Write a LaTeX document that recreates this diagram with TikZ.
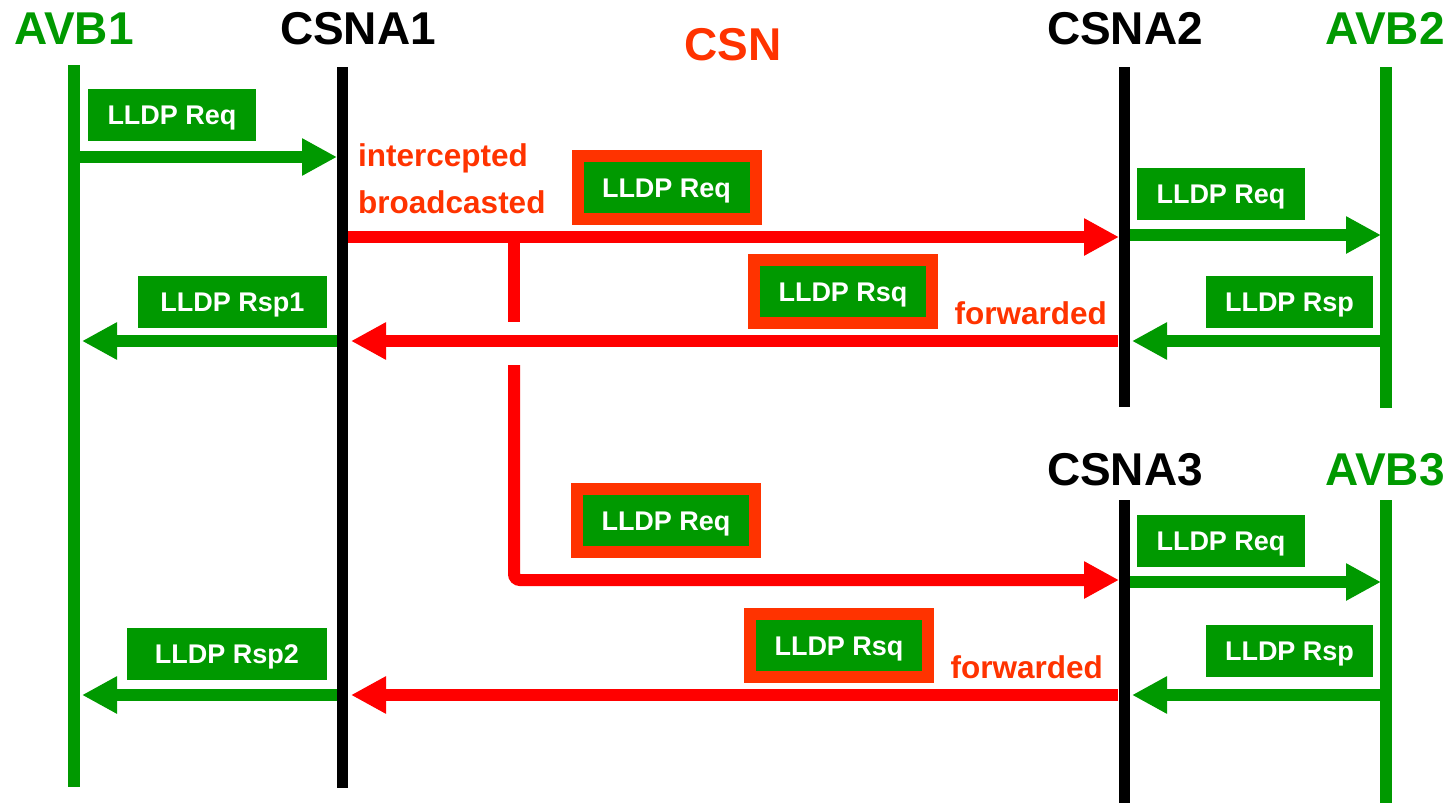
\documentclass[tikz,border=0pt]{standalone}
\usepackage{fontspec}
\setmainfont{Liberation Sans}
\usetikzlibrary{arrows.meta}
\definecolor{avbgreen}{HTML}{009900}
\definecolor{csnred}{HTML}{FF0000}
\definecolor{csnorange}{HTML}{FF3300}
\tikzset{
  head/.style={font=\fontsize{46}{50}\selectfont\bfseries, anchor=base, inner sep=0},
  note/.style={csnorange, font=\fontsize{31.5}{34}\selectfont\bfseries, inner sep=0},
  lifeavb/.style={avbgreen, line width=12pt},
  lifecsn/.style={black, line width=11pt},
  msg/.style={line width=12pt, -{Triangle[length=35pt,width=35pt]}},
  greenmsg/.style={msg, avbgreen},
  redmsg/.style={msg, csnred},
  pkt/.style={fill=avbgreen, text=white, font=\fontsize{27}{30}\selectfont\bfseries,
    text height=19.3pt, text depth=0pt, minimum height=52pt, inner sep=0},
  csnpkt/.style={pkt, draw=csnorange, line width=12pt, minimum width=178pt, minimum height=63pt}
}
\begin{document}
\begin{tikzpicture}[x=1pt,y=-1pt]
  \useasboundingbox (0,0) rectangle (1452,803);
  % headers
  \node[head, avbgreen] (avb1) at (74,45) {AVB1};
  \node[head] (csna1) at (358,45) {CSNA1};
  \node[head, csnorange] (csn) at (733,60) {CSN};
  \node[head] (csna2) at (1125,45) {CSNA2};
  \node[head, avbgreen] (avb2) at (1385,45) {AVB2};
  \node[head] (csna3) at (1125,485) {CSNA3};
  \node[head, avbgreen] (avb3) at (1385,485) {AVB3};
  % lifelines
  \coordinate (avb1t) at (74,65);   \coordinate (avb1b) at (74,787);
  \coordinate (csna1t) at (342,67); \coordinate (csna1b) at (342,788);
  \coordinate (csna2t) at (1124,67); \coordinate (csna2b) at (1124,407);
  \coordinate (avb2t) at (1386,67); \coordinate (avb2b) at (1386,408);
  \coordinate (csna3t) at (1124,500); \coordinate (csna3b) at (1124,803);
  \coordinate (avb3t) at (1386,500); \coordinate (avb3b) at (1386,803);
  \draw[lifeavb] (avb1t) -- (avb1b);
  \draw[lifecsn] (csna1t) -- (csna1b);
  \draw[lifecsn] (csna2t) -- (csna2b);
  \draw[lifeavb] (avb2t) -- (avb2b);
  \draw[lifecsn] (csna3t) -- (csna3b);
  \draw[lifeavb] (avb3t) -- (avb3b);
  % message ends
  \coordinate (req1s) at (80,157);   \coordinate (req1e) at (337,157);
  \coordinate (req2s) at (348,237);  \coordinate (req2e) at (1119,237);
  \coordinate (req3s) at (1130,235); \coordinate (req3e) at (1381,235);
  \coordinate (rsp3s) at (1381,341); \coordinate (rsp3e) at (1132,341);
  \coordinate (rsp2s) at (1118,341); \coordinate (rsp2e) at (351,341);
  \coordinate (rsp1s) at (337,341);  \coordinate (rsp1e) at (82,341);
  \coordinate (brs) at (514,237);    \coordinate (brg) at (514,322);
  \coordinate (brr) at (514,365);    \coordinate (brc) at (514,580);
  \coordinate (req4e) at (1119,580);
  \coordinate (req5s) at (1130,582); \coordinate (req5e) at (1381,582);
  \coordinate (rsp5s) at (1381,695); \coordinate (rsp5e) at (1132,695);
  \coordinate (rsp4s) at (1118,695); \coordinate (rsp4e) at (351,695);
  \coordinate (rsp6s) at (337,695);  \coordinate (rsp6e) at (82,695);
  \begin{scope}
    \draw[greenmsg] (req1s) to (req1e);
    \draw[redmsg] (req2s) to (req2e);
    \draw[greenmsg] (req3s) to (req3e);
    \draw[greenmsg] (rsp3s) to (rsp3e);
    \draw[redmsg] (rsp2s) to (rsp2e);
    \draw[greenmsg] (rsp1s) to (rsp1e);
    \draw[csnred, line width=12pt] (brs) -- (brg);
    \draw[redmsg, rounded corners=6pt] (brr) -- (brc) -- (req4e);
    \draw[greenmsg] (req5s) to (req5e);
    \draw[greenmsg] (rsp5s) to (rsp5e);
    \draw[redmsg] (rsp4s) to (rsp4e);
    \draw[greenmsg] (rsp6s) to (rsp6e);
  \end{scope}
  % packets
  \node[pkt, minimum width=168pt] (pktreq1) at (172,115) {LLDP Req};
  \node[pkt, minimum width=189pt] (pktrsp1) at (232.5,302) {LLDP Rsp1};
  \node[csnpkt] (pktreq2) at (666.5,187.5) {LLDP Req};
  \node[csnpkt] (pktrsp2) at (843,291.5) {LLDP Rsq};
  \node[pkt, minimum width=168pt] (pktreq3) at (1221,194) {LLDP Req};
  \node[pkt, minimum width=167pt] (pktrsp3) at (1289.5,302) {LLDP Rsp};
  \node[csnpkt] (pktreq4) at (666,520.5) {LLDP Req};
  \node[csnpkt] (pktrsp4) at (839,645.5) {LLDP Rsq};
  \node[pkt, minimum width=168pt] (pktreq5) at (1221,541) {LLDP Req};
  \node[pkt, minimum width=167pt] (pktrsp5) at (1289.5,651) {LLDP Rsp};
  \node[pkt, minimum width=200pt] (pktrsp6) at (227,654) {LLDP Rsp2};
  % notes
  \node[note, anchor=base west] (intercept) at (358,166) {intercepted};
  \node[note, anchor=base west] (bcast) at (358,213) {broadcasted};
  \node[note, anchor=base east] (fwd1) at (1107,324) {forwarded};
  \node[note, anchor=base east] (fwd2) at (1103,678) {forwarded};
\end{tikzpicture}
\end{document}
